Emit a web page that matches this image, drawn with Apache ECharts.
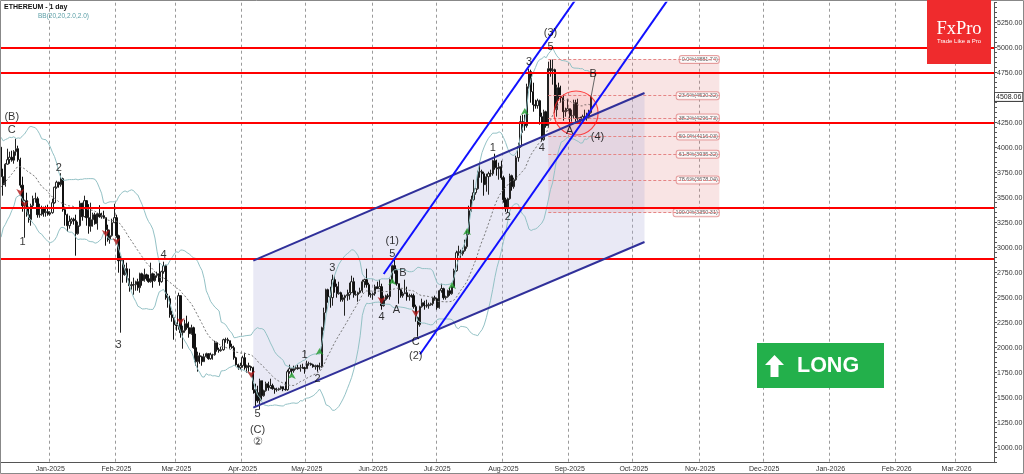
<!DOCTYPE html>
<html><head><meta charset="utf-8">
<script src="https://cdn.jsdelivr.net/npm/echarts@6/dist/echarts.min.js"></script>
<style>html,body{margin:0;padding:0;background:#fff}#c{width:1024px;height:474px}</style>
</head><body><div id="c"></div>
<script>
// ---------- DATA ----------
const START_DATE = '2024-12-09';
const NUM_DAYS = 465;            // visible date range incl. empty future
// closes before the first visible candle, used only to warm up BB(20)
const warmupCloses = [3105,3070,3355,3325,3395,3360,3415,3325,3655,3580,3590,3705,3710,3645,3615,3840,3790,4000,4005,4005];
const closes = [
 // Dec 2024 (from 9th)
 3710,3630,3835,3880,3905,3875,3960,3990,3880,3625,3420,3470,3330,3280,3420,3490,3490,3330,3335,3395,3350,3360,3335,
 // Jan 2025
 3350,3450,3605,3655,3630,3690,3380,3330,3220,3265,3285,3270,3140,3220,3445,3310,3470,3300,3215,3280,3330,3240,3340,3310,3320,3300,3180,3080,3120,3250,3300,
 // Feb
 3120,2870,2880,2730,2790,2690,2620,2630,2630,2660,2600,2740,2670,2730,2690,2660,2740,2670,2720,2740,2660,2760,2820,2500,2490,2330,2300,2230,
 // Mar
 2220,2520,2150,2170,2240,2200,2140,2200,2000,1860,1920,1910,1860,1910,1940,1890,1930,1930,2050,1980,1970,1980,2080,2080,2070,2010,2000,1900,1830,1800,1820,
 // Apr
 1900,1800,1820,1810,1800,1580,1550,1470,1670,1520,1570,1640,1600,1620,1590,1580,1580,1590,1610,1585,1580,1760,1790,1770,1790,1800,1790,1800,1800,1790,
 // May
 1840,1840,1830,1810,1820,1810,1810,2200,2350,2580,2510,2500,2680,2610,2540,2550,2480,2500,2520,2530,2550,2660,2530,2530,2550,2570,2660,2680,2630,2530,2530,
 // Jun
 2540,2610,2590,2610,2420,2480,2520,2510,2680,2820,2770,2640,2580,2520,2540,2550,2510,2520,2520,2410,2300,2230,2410,2450,2420,2420,2430,2440,2500,2490,
 // Jul
 2400,2570,2590,2500,2510,2570,2540,2610,2770,2950,2960,2940,2970,3010,3140,3370,3480,3550,3590,3760,3760,3740,3630,3710,3740,3740,3870,3800,3790,3810,3700,
 // Aug
 3480,3390,3490,3720,3610,3680,3900,4010,4260,4250,4220,4610,4760,4560,4430,4420,4470,4310,4080,4360,4220,4790,4770,4780,4380,4600,4510,4500,4360,4370,4390,
 // Sep
 4320,4320,4450,4290,4300,4270,4310,4310,4310,4350,4508.06
];
const highs = [
 4010,3790,3845,3990,3960,3970,3975,4090,4020,3900,3710,3480,3550,3410,3440,3520,3550,3510,3440,3420,3410,3420,3430,
 3365,3490,3610,3670,3660,3745,3700,3410,3340,3320,3300,3300,3330,3260,3470,3450,3520,3475,3435,3450,3350,3350,3350,3425,3350,3370,3300,3230,3180,3290,3440,
 3330,3130,2920,2850,2830,2850,2790,2660,2700,2670,2690,2750,2750,2790,2740,2730,2850,2750,2740,2760,2850,2770,2860,2830,2540,2520,2370,2300,
 2250,2550,2520,2220,2280,2320,2260,2230,2210,2140,1960,1950,1920,1940,1950,1940,1950,1940,2070,2060,2000,2010,2090,2100,2100,2070,2040,2020,1910,1840,1850,
 1920,1950,1830,1850,1820,1810,1640,1620,1690,1670,1580,1660,1660,1690,1640,1600,1600,1600,1620,1610,1660,1780,1830,1790,1820,1820,1830,1830,1840,1810,
 1870,1860,1850,1840,1830,1830,1850,2210,2400,2590,2590,2610,2730,2720,2640,2660,2560,2530,2530,2580,2650,2720,2700,2570,2560,2600,2680,2690,2790,2650,2550,
 2550,2630,2660,2680,2640,2520,2530,2540,2690,2830,2880,2790,2620,2590,2560,2680,2610,2540,2540,2540,2430,2310,2420,2490,2470,2480,2450,2450,2510,2520,
 2500,2580,2640,2600,2520,2580,2600,2620,2790,2970,3020,2980,3000,3080,3170,3420,3520,3680,3600,3770,3860,3780,3760,3740,3760,3780,3880,3940,3880,3850,3870,
 3720,3500,3500,3740,3730,3700,3920,4050,4320,4330,4330,4640,4790,4780,4650,4480,4490,4480,4350,4380,4370,4860,4880,4881.74,4790,4630,4650,4620,4530,4400,4490,
 4390,4380,4480,4480,4490,4310,4330,4380,4350,4380,4520
];
const lows = [
 3520,3520,3610,3830,3840,3860,3840,3920,3860,3600,3360,3100,3310,3250,3220,3400,3450,3300,3300,3320,3310,3310,3320,
 3320,3340,3440,3590,3600,3610,3360,3220,3160,3190,3240,3230,2920,3130,3210,3270,3305,3220,3140,3160,3210,3230,3180,3300,3290,3290,3020,3060,3040,3110,3270,
 3100,2750,2150,2650,2720,2650,2560,2580,2530,2570,2570,2550,2620,2660,2670,2650,2650,2600,2660,2700,2620,2650,2740,2480,2400,2300,2260,2080,
 2170,2180,2100,1990,2150,2180,2100,2130,1990,1820,1760,1840,1820,1860,1900,1880,1880,1880,1920,1960,1950,1960,1970,2050,2040,1990,1990,1880,1820,1780,1780,
 1800,1780,1750,1760,1770,1540,1410,1450,1385,1480,1510,1560,1570,1590,1580,1540,1560,1570,1580,1565,1570,1570,1740,1730,1750,1780,1780,1760,1790,1740,
 1790,1820,1820,1800,1780,1760,1780,1800,2170,2350,2450,2400,2420,2550,2500,2530,2460,2460,2320,2470,2480,2550,2500,2520,2460,2540,2550,2600,2600,2510,2500,
 2480,2520,2590,2590,2380,2410,2470,2490,2480,2650,2740,2620,2440,2500,2500,2540,2470,2470,2500,2390,2260,2110,2210,2400,2380,2400,2390,2420,2420,2470,
 2380,2390,2550,2480,2480,2500,2520,2530,2600,2760,2920,2900,2920,2960,2990,3130,3360,3470,3530,3580,3700,3650,3520,3560,3530,3710,3720,3780,3720,3680,3680,
 3450,3360,3350.31,3480,3570,3590,3670,3860,4000,4150,4170,4200,4590,4450,4360,4390,4390,4230,4060,4070,4200,4200,4710,4630,4350,4310,4470,4450,4270,4310,4370,
 4210,4260,4290,4260,4270,4260,4260,4280,4270,4290,4340
];
const lastPrice = 4508.06;
const supportResistance = [5000, 4750, 4250, 3400, 2890];
const fibRatios = ['0.0%','23.6%','38.2%','50.0%','61.8%','78.6%','100.0%'];
const fibPrices = [4881.74, 4520.32, 4296.73, 4116.03, 3935.32, 3678.04, 3350.31];
const fibSpan = ['2025-08-22', '2025-11-10'];
// trend lines: [date, price] end points
const steepUpper = [['2025-06-06', 2737], ['2025-09-10', 5672]];
const steepLower = [['2025-06-23', 1935], ['2025-10-18', 5512]];
const channelLower = [['2025-04-06', 1400], ['2025-10-06', 3057]];
const channelUpper = [['2025-04-06', 2870], ['2025-10-06', 4547]];
const circleCenter = ['2025-09-04', 4347];
const projection = [['2025-09-11', 4508.06], ['2025-09-13', 4737]];
// wave labels: [date, price, text]
const waveLabels = [
 ['2024-12-14',4307,'(B)'],['2024-12-14',4177,'C'],['2024-12-19',3057,'1'],['2025-01-05',3797,'2'],
 ['2025-02-02',2027,'3'],['2025-02-23',2927,'4'],['2025-04-08',1337,'5'],['2025-04-08',1177,'(C)'],['2025-04-08',1057,'②'],
 ['2025-04-30',1927,'1'],['2025-05-06',1687,'2'],['2025-05-13',2797,'3'],['2025-06-05',2307,'4'],
 ['2025-06-10',3067,'(1)'],['2025-06-10',2937,'5'],['2025-06-15',2747,'B'],['2025-06-12',2377,'A'],
 ['2025-06-21',2057,'C'],['2025-06-21',1917,'(2)'],['2025-07-27',3997,'1'],['2025-08-03',3307,'2'],
 ['2025-08-13',4857,'3'],['2025-08-19',3997,'4'],['2025-08-23',5147,'(3)'],['2025-08-23',5007,'5'],
 ['2025-09-01',4167,'A'],['2025-09-14',4107,'(4)'],['2025-09-12',4737,'B']
];
const buySignals = [['2025-04-24',1757],['2025-05-07',1997],['2025-06-10',2697],['2025-07-08',2657],['2025-07-15',3197],['2025-08-11',4397]];
const sellSignals = [['2024-12-18',3517],['2024-12-20',3397],['2025-01-27',3107],['2025-02-01',3027],['2025-03-03',2227],['2025-04-05',1697],['2025-06-05',2437],['2025-06-21',2307]];

// ---------- BUILD ----------
const MONTHS = ['Jan','Feb','Mar','Apr','May','Jun','Jul','Aug','Sep','Oct','Nov','Dec'];
const categories = [];
const t0 = Date.parse(START_DATE + 'T00:00:00Z');
for (let i = 0; i < NUM_DAYS; i++) categories.push(new Date(t0 + i * 86400000).toISOString().slice(0, 10));
const ix = s => categories.indexOf(s);
const pt = p => [ix(p[0]), p[1]];

const candleData = closes.map((c, i) => {
  const o = i === 0 ? warmupCloses[warmupCloses.length - 1] : closes[i - 1];
  return [o, c, Math.min(lows[i], o, c), Math.max(highs[i], o, c)];
});
const allCloses = warmupCloses.concat(closes);
const bbUp = [], bbMid = [], bbLow = [];
for (let i = 0; i < closes.length; i++) {
  const j = i + warmupCloses.length;
  const w = allCloses.slice(j - 19, j + 1);
  const m = w.reduce((a, b) => a + b, 0) / w.length;
  const sd = Math.sqrt(w.reduce((a, b) => a + (b - m) * (b - m), 0) / w.length);
  bbMid.push(+m.toFixed(2)); bbUp.push(+(m + 2 * sd).toFixed(2)); bbLow.push(+(m - 2 * sd).toFixed(2));
}
const isMonthStart = (i, v) => typeof v === 'string' && v.slice(8) === '01';
const FONT = '"Liberation Sans", Arial, "DejaVu Sans", sans-serif';
const CLEAR = 'rgba(0,0,0,0)';

const chart = echarts.init(document.getElementById('c'));
const lineStyleSeries = (pts, color, width) => ({
  type: 'line', data: pts.map(pt), symbol: 'none', silent: true, z: 6, clip: true,
  lineStyle: { color: color, width: width }
});

chart.setOption({
  animation: false,
  backgroundColor: '#ffffff',
  grid: { left: 0, right: 30, top: 2.7, bottom: 11.3, containLabel: false, outerBoundsMode: 'none' },
  xAxis: {
    type: 'category', data: categories, boundaryGap: true,
    axisLine: { lineStyle: { color: '#555', width: 1 } },
    axisTick: { show: false },
    axisLabel: {
      interval: isMonthStart, margin: 3, fontSize: 7, color: '#333', fontFamily: FONT,
      formatter: v => MONTHS[+v.slice(5, 7) - 1] + '-' + v.slice(0, 4)
    },
    splitLine: { show: true, interval: isMonthStart, lineStyle: { color: '#9a9a9a', type: [3, 3], width: 1 } }
  },
  yAxis: {
    type: 'value', position: 'right', min: 850, max: 5450, interval: 50, scale: true,
    axisLine: { show: true, lineStyle: { color: '#555' } },
    axisTick: { show: true, length: 3, lineStyle: { color: '#555' } },
    axisLabel: {
      margin: 3, fontSize: 7, color: '#333', fontFamily: FONT,
      formatter: v => (Math.round(v) % 250 === 0 ? Math.round(v).toFixed(2) : '')
    },
    splitLine: { show: false }
  },
  series: [
    { // wide channel fill
      type: 'custom', z: 1, silent: true,
      data: [[ix(channelLower[0][0]), 2000]],
      renderItem: (params, api) => ({
        type: 'polygon',
        shape: { points: [pt(channelLower[0]), pt(channelLower[1]), pt(channelUpper[1]), pt(channelUpper[0])].map(p => api.coord(p)) },
        style: { fill: 'rgba(175,175,220,0.28)' }
      })
    },
    { // fib box, levels and labels
      type: 'scatter', z: 2, silent: true, symbolSize: 1, itemStyle: { color: CLEAR },
      data: fibPrices.map((p, k) => ({ value: [ix(fibSpan[1]), p], name: fibRatios[k] + '(' + p.toFixed(2) + ')' })),
      label: {
        show: true, position: 'left', distance: 0, formatter: '{b}', fontSize: 5.5, color: '#333', fontFamily: FONT,
        backgroundColor: '#fff', borderColor: '#e08a8a', borderWidth: 1, borderRadius: 2, padding: [1, 1, 0, 2]
      },
      markArea: {
        silent: true, itemStyle: { color: 'rgba(225,120,120,0.2)' },
        data: [[{ coord: [ix(fibSpan[0]), fibPrices[0]] }, { coord: [ix(fibSpan[1]), fibPrices[6]] }]]
      },
      markLine: {
        silent: true, symbol: ['none', 'none'], label: { show: false },
        lineStyle: { color: '#e58585', width: 1, type: [3, 2] },
        data: fibPrices.map(p => [{ coord: [ix(fibSpan[0]), p] }, { coord: [ix(fibSpan[1]), p] }])
      }
    },
    {
      type: 'candlestick', z: 3, data: candleData, barWidth: 1.8, silent: true,
      itemStyle: { color: '#ffffff', color0: '#111111', borderColor: '#222222', borderColor0: '#111111', borderWidth: 1 },
      markLine: {
        silent: true, symbol: ['none', 'none'],
        lineStyle: { color: CLEAR, width: 0 },
        label: { show: true, position: 'end', distance: 1, formatter: lastPrice.toFixed(2), fontSize: 7, color: '#222',
          fontFamily: FONT, backgroundColor: '#fff', borderColor: '#444', borderWidth: 1, padding: [1, 1, 0, 1] },
        data: [{ yAxis: lastPrice }]
      }
    },
    { type: 'line', z: 4, data: bbUp, symbol: 'none', silent: true, lineStyle: { color: '#94c2c6', width: 1 } },
    { type: 'line', z: 4, data: bbLow, symbol: 'none', silent: true, lineStyle: { color: '#94c2c6', width: 1 } },
    {
      type: 'line', z: 4, data: bbMid, symbol: 'none', silent: true, lineStyle: { color: '#777', width: 1, type: [2, 2] },
      markLine: {
        silent: true, symbol: ['none', 'none'], label: { show: false },
        lineStyle: { color: '#ff0000', width: 2, type: 'solid' },
        data: supportResistance.map(v => ({ yAxis: v }))
      }
    },
    lineStyleSeries(channelLower, '#30309a', 2),
    lineStyleSeries(channelUpper, '#30309a', 2),
    lineStyleSeries(steepUpper, '#1010ff', 2),
    lineStyleSeries(steepLower, '#1010ff', 2),
    {
      type: 'line', z: 6, silent: true, symbol: 'none', showSymbol: true,
      lineStyle: { color: '#666', width: 1 },
      data: [pt(projection[0]), { value: pt(projection[1]), symbol: 'arrow', symbolSize: [6, 7], symbolRotate: -20, itemStyle: { color: '#111' } }]
    },
    {
      type: 'scatter', z: 5, silent: true, data: [pt(circleCenter)], symbolSize: 44,
      itemStyle: { color: 'rgba(255,90,90,0.14)', borderColor: '#ff1a1a', borderWidth: 1.2 }
    },
    {
      type: 'scatter', z: 7, silent: true, data: buySignals.map(pt), symbol: 'arrow', symbolSize: [6, 7],
      itemStyle: { color: '#1f9a2a' }
    },
    {
      type: 'scatter', z: 7, silent: true, data: sellSignals.map(pt), symbol: 'arrow', symbolSize: [6, 7], symbolRotate: 180,
      itemStyle: { color: '#b01818' }
    },
    {
      type: 'scatter', z: 8, silent: true, symbolSize: 1, itemStyle: { color: CLEAR },
      data: waveLabels.map(w => ({ value: [ix(w[0]), w[1]], name: w[2] })),
      label: { show: true, position: 'inside', formatter: '{b}', fontSize: 11, color: '#000', fontFamily: FONT,
        textBorderColor: CLEAR, textBorderWidth: 0 }
    }
  ],
  graphic: [
    { type: 'rect', silent: true, shape: { x: 0.5, y: 0.5, width: 1023, height: 473 }, style: { fill: 'none', stroke: '#888', lineWidth: 1 }, z: 100 },
    { type: 'text', left: 4, top: 4, silent: true, style: { text: 'ETHEREUM - 1 day', font: 'bold 7px ' + FONT, fill: '#111' }, z: 100 },
    { type: 'text', left: 38, top: 13, silent: true, style: { text: 'BB(20,20,2.0,2.0)', font: '6.5px ' + FONT, fill: '#5a9ea6' }, z: 100 },
    // FxPro logo
    { type: 'rect', silent: true, shape: { x: 927, y: 0, width: 64, height: 64 }, style: { fill: '#ef2b2d' }, z: 100 },
    { type: 'text', silent: true, x: 959, y: 29, style: { text: 'FxPro', font: '18.5px "Liberation Serif", "DejaVu Serif", serif', fill: '#fff', align: 'center', verticalAlign: 'middle' }, z: 101 },
    { type: 'text', silent: true, x: 959, y: 41, style: { text: 'Trade Like a Pro', font: '6px ' + FONT, fill: '#fff', align: 'center', verticalAlign: 'middle' }, z: 101 },
    // LONG button
    { type: 'rect', silent: true, shape: { x: 757, y: 343, width: 127, height: 45 }, style: { fill: '#23b04b' }, z: 100 },
    { type: 'polygon', silent: true, shape: { points: [[774.5, 355], [765, 365], [770.5, 365], [770.5, 377], [778.5, 377], [778.5, 365], [784, 365]] }, style: { fill: '#fff' }, z: 101 },
    { type: 'text', silent: true, x: 797, y: 366, style: { text: 'LONG', font: 'bold 21.5px ' + FONT, fill: '#fff', verticalAlign: 'middle' }, z: 101 }
  ]
});
</script>
</body></html>
